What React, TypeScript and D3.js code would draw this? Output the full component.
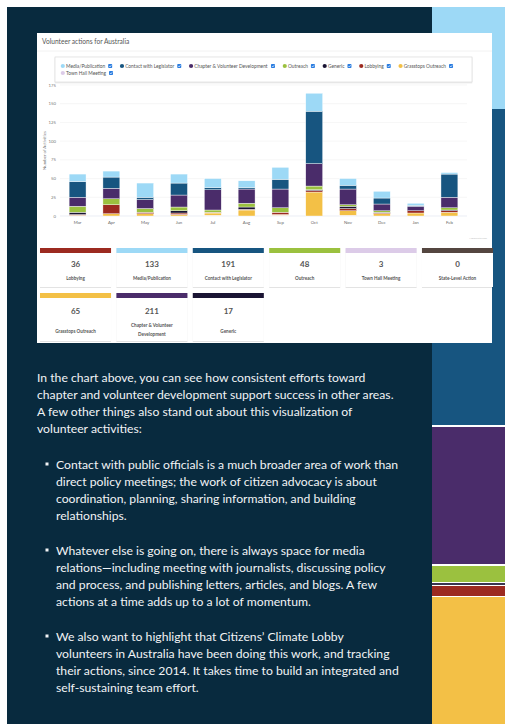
import React from 'react';
import { scaleBand, scaleLinear, stack, range } from 'd3';

const months = ['Mar', 'Apr', 'May', 'Jun', 'Jul', 'Aug', 'Sep', 'Oct', 'Nov', 'Dec', 'Jan', 'Feb'];

// series values per month
const media = [10, 8, 19, 12, 12, 9, 16, 24, 9, 9, 3, 2];
const contact = [21, 15, 3, 16, 3, 2, 13, 70, 5, 8, 1, 31];
const chapter = [12, 14, 12, 16, 27, 19, 25, 30, 21, 9, 6, 14];
const outreach = [8, 8, 5, 5, 3, 5, 6, 5, 2, 2, 0, 3];
const generic = [3, 0, 0, 3, 0, 3, 0, 1, 3, 1, 0, 1];
const lobbying = [1, 12, 2, 2, 1, 1, 3, 2, 3, 1, 3, 2];
const grasstops = [1, 3, 3, 2, 3, 8, 1, 32, 6, 3, 4, 5];
const townHall = [0, 0, 0, 0, 1, 0, 1, 0, 1, 0, 0, 0];

const seriesNames = ['Media/Publication', 'Contact with Legislator', 'Chapter & Volunteer Development', 'Outreach', 'Generic', 'Lobbying', 'Grasstops Outreach', 'Town Hall Meeting'];
const seriesValues = [media, contact, chapter, outreach, generic, lobbying, grasstops, townHall];
const seriesColors = ['#9dd9f6', '#175580', '#4a2c6a', '#9bc13f', '#1a1433', '#9c2a20', '#f3c046', '#dccbe8'];

const yTicks = [0, 25, 50, 75, 100, 125, 150, 175];

// summary cards
const cardLabels = [['Lobbying'], ['Media/Publication'], ['Contact with Legislator'], ['Outreach'], ['Town Hall Meeting'], ['State-Level Action'], ['Grasstops Outreach'], ['Chapter & Volunteer', 'Development'], ['Generic']];
const cardTotals = [36, 133, 191, 48, 3, 0, 65, 211, 17];
const cardColors = ['#9c2a20', '#9dd9f6', '#175580', '#9bc13f', '#dccbe8', '#544640', '#f3c046', '#4a2c6a', '#1a1433'];

// decorative stacked stripe on the right edge
const stripeValues = [102, 316, 2, 137, 2, 16, 1, 2, 1, 10, 1, 130];
const stripeColors = ['#9dd9f6', '#175580', '#ffffff', '#4a2c6a', '#ffffff', '#9bc13f', '#ffffff', '#3a3550', '#ffffff', '#9c2a20', '#ffffff', '#f3c046'];

const intro = [
  'In the chart above, you can see how consistent efforts toward',
  'chapter and volunteer development support success in other areas.',
  'A few other things also stand out about this visualization of',
  'volunteer activities:',
];
const bullets = [
  ['Contact with public officials is a much broader area of work than', 'direct policy meetings; the work of citizen advocacy is about', 'coordination, planning, sharing information, and building', 'relationships.'],
  ['Whatever else is going on, there is always space for media', 'relations\u2014including meeting with journalists, discussing policy', 'and process, and publishing letters, articles, and blogs. A few', 'actions at a time adds up to a lot of momentum.'],
  ['We also want to highlight that Citizens\u2019 Climate Lobby', 'volunteers in Australia have been doing this work, and tracking', 'their actions, since 2014. It takes time to build an integrated and', 'self-sustaining team effort.'],
];

const W = 505;
const H = 724;
const font = 'Lato, "Noto Sans", sans-serif';

let ctx: CanvasRenderingContext2D | null = null;
function textWidth(t: string, size: number) {
  if (!ctx) ctx = document.createElement('canvas').getContext('2d');
  if (!ctx) return t.length * size * 0.5;
  ctx.font = `${size}px Lato`;
  return ctx.measureText(t).width;
}

export default function App() {
  const x = scaleBand<string>().domain(months).range([60, 467]).paddingInner(0.5).paddingOuter(0.27);
  const y = scaleLinear().domain([0, 175]).range([216, 85]);

  const rows = months.map((m, i) => {
    const r: any = { month: m };
    seriesNames.forEach((s, k) => (r[s] = seriesValues[k][i]));
    return r;
  });
  // highcharts stacks first series on top
  const order = seriesNames.slice().reverse();
  const stacked = stack<any>().keys(order)(rows);

  // legend layout
  const legFont = 4.85;
  let lx = 61;
  const legendItems = seriesNames.map((s, i) => {
    if (i === 7) lx = 61;
    const item = { name: s, color: seriesColors[i], x: lx, y: i === 7 ? 73 : 66 };
    lx += 5 + textWidth(s, legFont) + 3 + 4 + 8;
    return item;
  });

  const stripeY = scaleLinear().domain([0, 1]).range([7, 8]);
  let acc = 0;
  const stripe = stripeValues.map((v, i) => {
    const s = { y0: stripeY(acc), y1: stripeY(acc + v), color: stripeColors[i] };
    acc += v;
    return s;
  });

  const cardX = scaleBand<number>().domain(range(6)).range([40, 493]).paddingInner(0.07).paddingOuter(0);
  const rowTop = [248, 293];
  const rowH = [39, 48];

  const textLine = 17.1;

  return (
    <svg width={W} height={H} style={{ position: 'absolute', left: 0, top: 0 }} fontFamily={font}>
      <defs>
        <filter id="sh" x="-10%" y="-10%" width="120%" height="130%">
          <feDropShadow dx="0" dy="0.6" stdDeviation="0.6" floodColor="#000" floodOpacity="0.18" />
        </filter>
      </defs>
      <rect width={W} height={H} fill="#ffffff" />
      <rect x={7} y={7} width={425} height={H - 7} fill="#082a3e" />
      {stripe.map((s, i) => (
        <rect key={i} x={432} y={s.y0} width={W - 432} height={s.y1 - s.y0} fill={s.color} />
      ))}

      {/* chart card */}
      <rect x={37} y={33} width={455} height={310} fill="#ffffff" />
      <text x={42} y={44} fontSize={6.6} fill="#555">Volunteer actions for Australia</text>
      <line x1={37} x2={492} y1={51} y2={51} stroke="#f2f2f2" strokeWidth={1} />

      <rect x={55} y={57} width={417} height={25} fill="#fff" stroke="#d8d8d8" strokeWidth={0.6} filter="url(#sh)" />
      {legendItems.map((d) => {
        const tw = textWidth(d.name, legFont);
        const cx = d.x + 5 + tw + 3;
        return (
          <g key={d.name}>
            <circle cx={d.x + 1.8} cy={d.y} r={2.1} fill={d.color} />
            <text x={d.x + 5} y={d.y + 1.7} fontSize={legFont} fill="#555">{d.name}</text>
            <rect x={cx} y={d.y - 2} width={4} height={4} rx={0.8} fill="#2b7de0" />
            <path d={`M${cx + 0.9},${d.y} l1,1 l1.3,-1.8`} stroke="#fff" strokeWidth={0.6} fill="none" />
          </g>
        );
      })}

      {yTicks.map((t) => (
        <g key={t}>
          <line x1={60} x2={467} y1={y(t)} y2={y(t)} stroke={t === 0 ? '#dde3ee' : '#f0f0f0'} strokeWidth={0.6} />
          <text x={56} y={y(t) + 1.5} fontSize={4.3} fill="#777" textAnchor="end">{t}</text>
        </g>
      ))}
      <text transform={`translate(45.5,${(y(0) + y(175)) / 2}) rotate(-90)`} fontSize={4.3} fill="#777" textAnchor="middle">Number of Activities</text>

      {stacked.map((layer) => (
        <g key={layer.key} fill={seriesColors[seriesNames.indexOf(layer.key as string)]}>
          {layer.map((d, i) =>
            d[1] - d[0] > 0 ? (
              <rect key={i} x={x(months[i])} y={y(d[1])} width={x.bandwidth()} height={y(d[0]) - y(d[1])} stroke="#fff" strokeWidth={0.4} />
            ) : null
          )}
        </g>
      ))}
      {months.map((m) => (
        <text key={m} x={(x(m) as number) + x.bandwidth() / 2} y={223.5} fontSize={4.3} fill="#666" textAnchor="middle">{m}</text>
      ))}
      <text x={487} y={239} fontSize={2.6} fill="#c4c4c4" textAnchor="end">Highcharts.com</text>

      {cardLabels.map((lab, i) => {
        const row = Math.floor(i / 6);
        const col = i % 6;
        const cx = cardX(col) as number;
        const cw = cardX.bandwidth();
        const top = rowTop[row];
        const mid = cx + cw / 2;
        const numY = top + (row === 0 ? 19 : 21);
        const labY = top + (row === 0 ? 32 : 39.5);
        return (
          <g key={i}>
            <rect x={cx} y={top} width={cw} height={rowH[row]} fill="#fff" filter="url(#sh)" />
            <rect x={cx} y={top} width={cw} height={5} fill={cardColors[i]} />
            <text x={mid} y={numY} fontSize={8} fontWeight={700} fill="#555" textAnchor="middle">{cardTotals[i]}</text>
            {lab.map((l, k) => (
              <text key={k} x={mid} y={lab.length > 1 ? top + 34 + k * 9 : labY} fontSize={4.6} fontWeight={700} fill="#555" textAnchor="middle">{l}</text>
            ))}
          </g>
        );
      })}

      {/* article text */}
      <g fill="#f1f3f5" fontSize={12.2}>
        {intro.map((l, i) => (
          <text key={i} x={37} y={381.5 + i * textLine}>{l}</text>
        ))}
        {bullets.map((b, bi) => (
          <g key={bi}>
            <rect x={45.5} y={462.5 + bi * 86} width={3} height={3} fill="#f1f3f5" />
            {b.map((l, i) => (
              <text key={i} x={56} y={468.5 + bi * 86 + i * textLine}>{l}</text>
            ))}
          </g>
        ))}
      </g>
    </svg>
  );
}
